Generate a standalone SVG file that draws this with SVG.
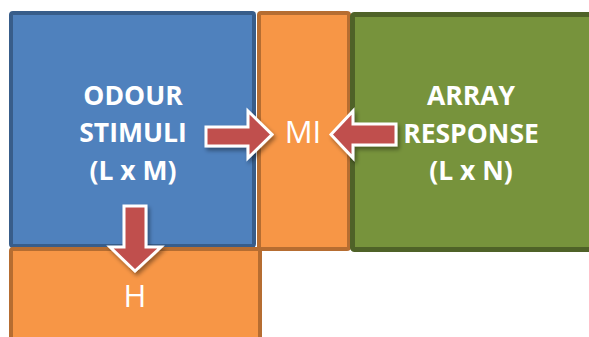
<svg xmlns="http://www.w3.org/2000/svg" width="589" height="337" viewBox="0 0 589 337">
<defs>
<style>
.blue{fill:#4f81bd;stroke:#385d8a;stroke-width:4}
.orange{fill:#f79646;stroke:#b66d31;stroke-width:4}
.green{fill:#77933c;stroke:#4f6228;stroke-width:5}
.lbl{font-family:"Open Sans","Liberation Sans",sans-serif;font-weight:bold;font-size:26.5px;fill:#ffffff;text-anchor:middle}
.big{font-family:"Open Sans","Liberation Sans",sans-serif;font-size:31px;fill:#ffffff;text-anchor:middle}
.arrow{fill:#c0504d;stroke:#ffffff;stroke-width:3;stroke-linejoin:miter;filter:url(#sh)}
</style>
<filter id="sh" x="-20%" y="-20%" width="150%" height="150%">
<feGaussianBlur in="SourceAlpha" stdDeviation="2"/>
<feOffset dx="2" dy="3" result="b"/>
<feComponentTransfer><feFuncA type="linear" slope="0.4"/></feComponentTransfer>
<feMerge><feMergeNode/><feMergeNode in="SourceGraphic"/></feMerge>
</filter>
</defs>
<rect width="589" height="337" fill="#ffffff"/>
<g id="odour">
<rect class="blue" x="11" y="13" width="243" height="233" rx="2"/>
<text class="lbl" x="133" y="105">ODOUR</text>
<text class="lbl" x="133" y="142">STIMULI</text>
<text class="lbl" x="133" y="180">(L x M)</text>
</g>
<g id="mi">
<rect class="orange" x="259" y="13" width="90" height="236" rx="2"/>
<text class="big" x="303" y="143">MI</text>
</g>
<g id="array">
<rect class="green" x="352.5" y="14.5" width="250" height="235" rx="2"/>
<text class="lbl" x="471" y="105">ARRAY</text>
<text class="lbl" x="471" y="143">RESPONSE</text>
<text class="lbl" x="471" y="180">(L x N)</text>
</g>
<g id="h">
<rect class="orange" x="11" y="249" width="249" height="100" rx="2"/>
<text class="big" x="135" y="307">H</text>
</g>
<g id="connectors">
<polygon class="arrow" points="206,127 248,127 248,111 272,134.5 248,158 248,146 206,146"/>
<polygon class="arrow" points="396,124 353,124 353,111 331,134.5 353,158 353,145 396,145"/>
<polygon class="arrow" points="124,206 146,206 146,247 161,247 135,271 110,247 124,247"/>
</g>
</svg>
